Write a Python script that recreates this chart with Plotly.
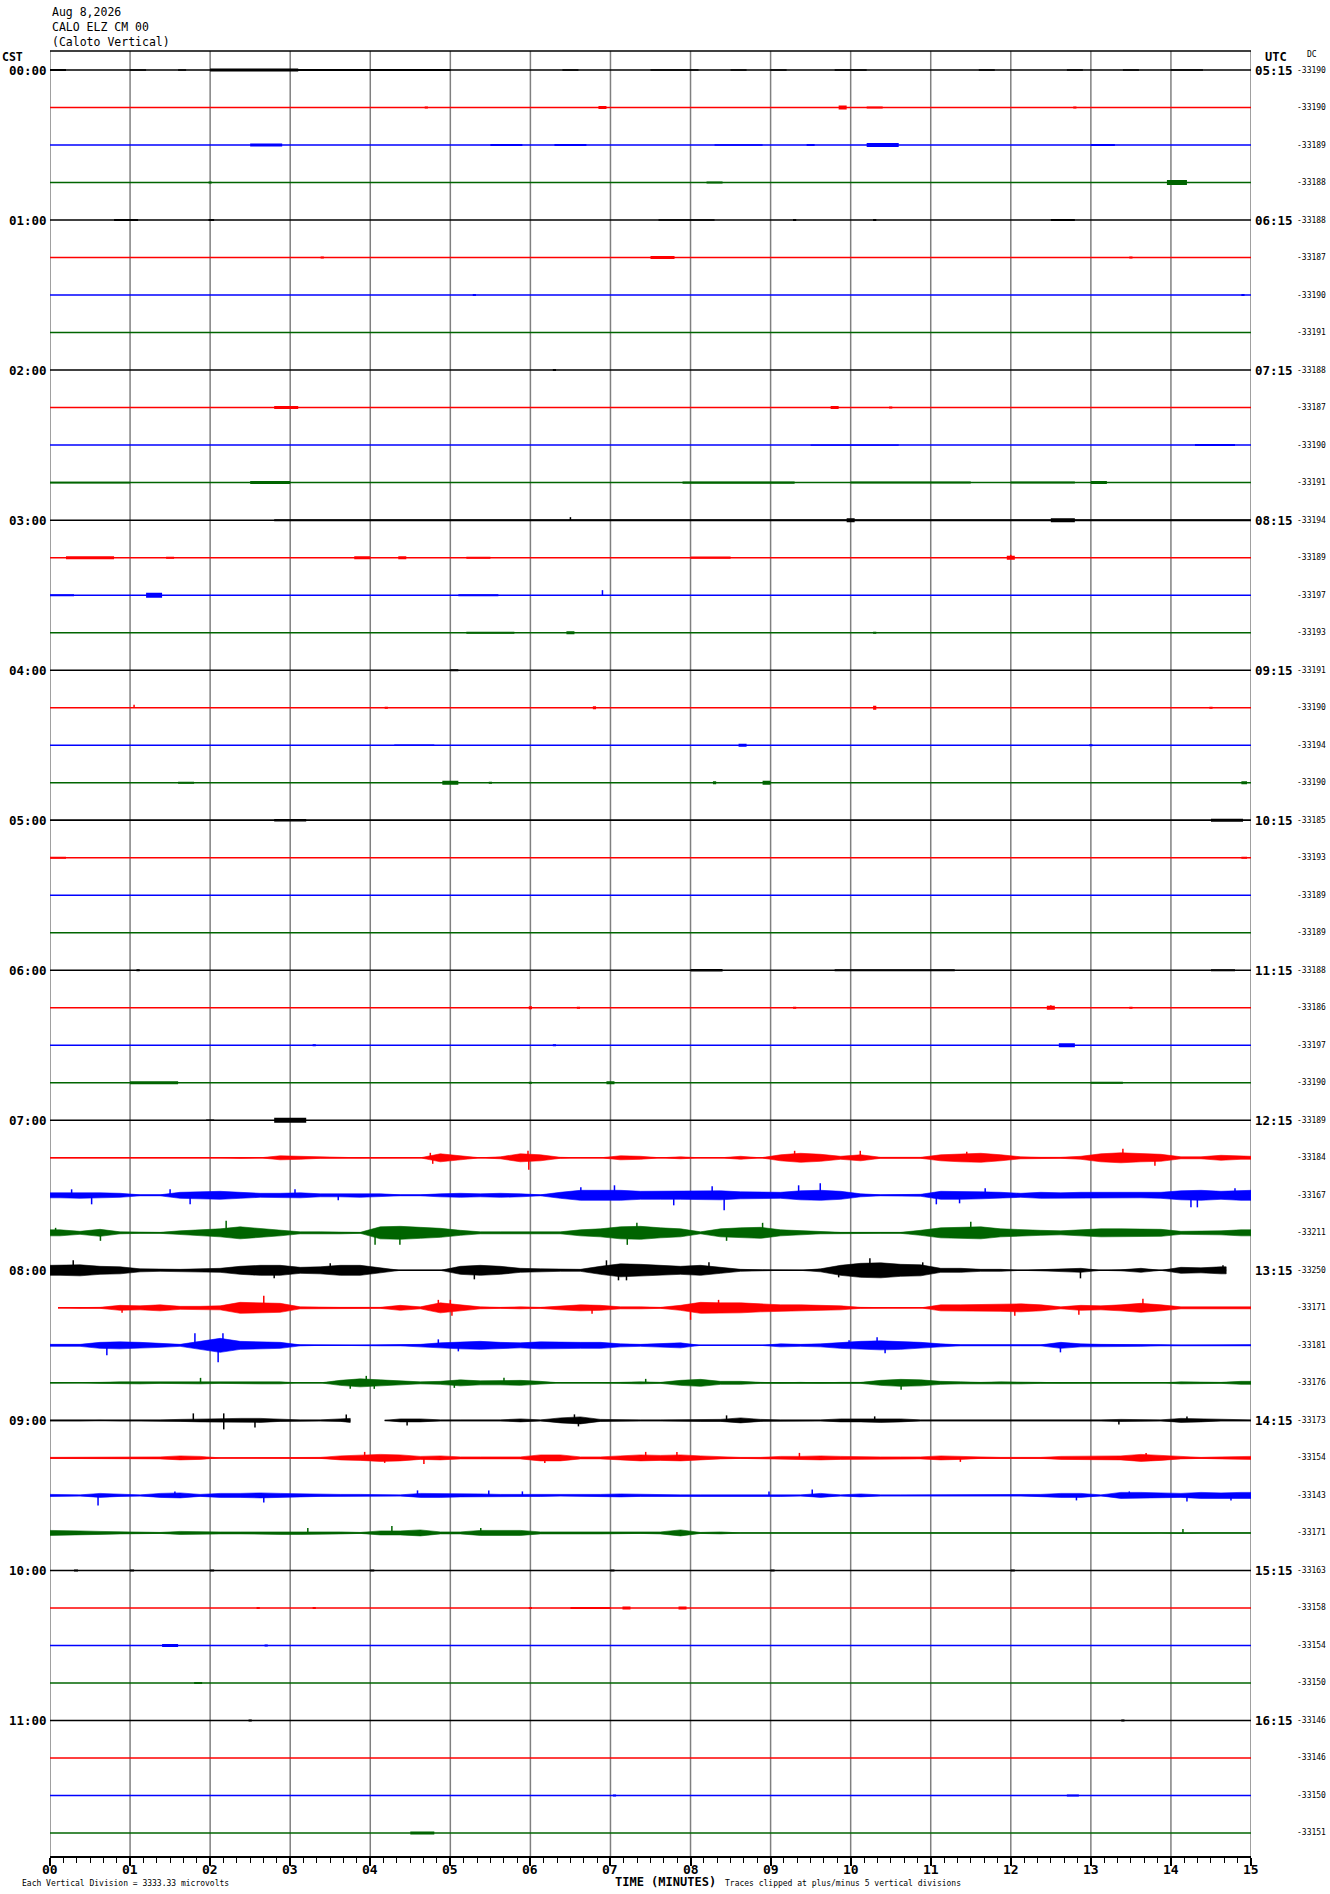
import plotly.graph_objects as go

# header / labels
title_lines = ["Aug 8,2026", "CALO ELZ CM 00", "(Caloto Vertical)"]
cst_labels = ["00:00", "01:00", "02:00", "03:00", "04:00", "05:00",
              "06:00", "07:00", "08:00", "09:00", "10:00", "11:00"]
utc_labels = ["05:15", "06:15", "07:15", "08:15", "09:15", "10:15",
              "11:15", "12:15", "13:15", "14:15", "15:15", "16:15"]
minute_labels = ["%02d" % m for m in range(16)]

dc_values = [-33190, -33190, -33189, -33188, -33188, -33187, -33190, -33191,
             -33188, -33187, -33190, -33191, -33194, -33189, -33197, -33193,
             -33191, -33190, -33194, -33190, -33185, -33193, -33189, -33189,
             -33188, -33186, -33197, -33190, -33189, -33184, -33167, -33211,
             -33250, -33171, -33181, -33176, -33173, -33154, -33143, -33171,
             -33163, -33158, -33154, -33150, -33146, -33146, -33150, -33151]

trace_colors = ["#000000", "#ff0000", "#0000ff", "#006400"]

# half-amplitude (px) per 15 s bin for the busy lines 07:15 .. 09:45
env_0715 = [0, .5, 0, .5, 0, 0, 0, 0, 0, .5, 0, 2, 1.5, .5, 0, 0, 0, 0, 0, 4,
            2, 0, 1, 4, 3, .5, 0, 0, 2, 1.5, 0, 1, 0, 0, 1.5, 0, 3, 4.5, 3.5, 1.5,
            3, .5, .5, .5, 3, 4, 4.5, 3, 1, .5, .5, 1.5, 4, 5, 4, 3.5, 1, 1, 2.5, 1.5]
env_0730 = [2.5, 3, 2.5, 2, .5, .5, 3, 3.5, 4, 3, 2, 2, 2.5, 1.5, 1.5, 2, 1.5, .5, .5, 1.5,
            2, 1.5, 2, 1.5, .5, 3, 5, 5, 5, 4, 4, 4, 4, 4.5, 3.5, 3, 3, 4.5, 5, 4,
            1.5, .5, .5, 1, 4, 4, 3.5, 3, 2, 3, 2.5, 3, 3, 2.5, 2.5, 3, 4.5, 5, 4, 5]
env_0745 = [3, 1.5, 3.5, 1, .5, .5, 2, 3, 4, 6, 4.5, 3, 1, 1, 1, .5, 6, 6.5, 5.5, 4.5,
            2.5, 1, 1, 1, 1, 1, 3, 4, 6, 6.5, 5, 4, 1, 4, 5, 5.5, 3, 2, 1, .5,
            .5, .5, .5, 2.5, 5, 5.5, 6, 4, 3, 2.5, 2, 3, 4, 4, 3.5, 3.5, 1.5, 1.5, 2, 3]
env_0800 = [5, 5.5, 4, 3.5, 1.5, 1, 1, 1.5, 2, 4, 5, 5, 3, 3.5, 5, 5, 2.5, 0, 0, 0,
            4, 5, 4, 2, 1.5, 1, 1, 4, 6.5, 6, 5, 4, 5, 3, 1, .5, 0, 0, 1.5, 5,
            7, 7.5, 6, 5.5, 2, 2, 1, 1, 0, .5, 1, 2, 0, .5, 2, 0, 3, 2.5, 3.5, 3]
env_0815 = [0, .5, .5, 2.5, 2, 3, 1.5, 1.5, 2, 5.5, 5, 4.5, 1, .5, .5, .5, .5, 2.5, 1, 5,
            3, 1, .5, 1, .5, 2, 3, 2.5, 1, 1, .5, 2.5, 5.5, 5, 5, 4, 3, 3, 2.5, 2,
            .5, 0, 0, 0, 3, 3, 3.5, 3.5, 4, 3, 1, 2.5, 2, 3, 4.5, 3, 1, 1, 1, 1]
env_0830 = [1, 1, 3, 3.5, 3, 2, 1, 4, 7, 4, 3.5, 3, .5, 0, 0, 0, .5, .5, 1, 2.5,
            3.5, 4, 3, 2.5, 3.5, 3, 3, 3, 1.5, 1, 1.5, 2.5, 0, 0, 0, 0, 1.5, 1, 1.5, 3,
            4, 4.5, 4, 3, 1.5, .5, .5, .5, .5, .5, 3, 1.5, 1, 1, 1, .5, 0, 0, 0, .5]
env_0845 = [0, 0, .5, 1, 1, .5, .5, 1, .5, .5, 1, 1, 0, 0, 2.5, 4, 3, 2, 1, 1.5,
            3, 2, 2, 2.5, 1.5, 0, 0, 0, .5, 1, .5, 2.5, 3.5, 1.5, 1.5, .5, 0, .5, 0, .5,
            .5, 2.5, 3.5, 3, 1.5, 1, .5, 1, 1, .5, 0, 0, 0, 0, 0, 0, 1, .5, .5, 1.5]
env_0900 = [.5, .5, 0, .5, .5, .5, 1, 1.5, 2, 2, 2, 1, .5, .5, 1, 2, 0, 1.5, 1.5, .5,
            .5, .5, .5, 1.5, .5, 2.5, 3.5, 1, .5, .5, .5, .5, 1, 1, 2.5, 1, .5, .5, .5, 1.5,
            1.5, 2, 1.5, .5, .5, 0, 0, 0, 0, 0, 0, .5, .5, 1, 1, .5, 2, 1.5, .5, .5]
env_0915 = [.5, .5, 1, .5, 1, 1, 2, 1.5, 0, 0, 0, 0, .5, .5, 2, 2.5, 3.5, 3, 1.5, 2,
            1, 1, 1, 1, 3, 3, 1, 1, 2, 3, 2.5, 3, 2, 1, .5, .5, 1.5, 1.5, 2, 1.5,
            1, 1, 1, 1, 2, 1.5, .5, .5, .5, .5, 1.5, 1.5, 2, 2, 3.5, 2.5, 1, .5, 1, 1.5]
env_0930 = [1, .5, 2, 1, .5, 2, 2.5, 1, 2, 2, 2.5, 2, 1.5, 1, 1, 1, .5, .5, 2, 2,
            1.5, 1.5, 1, 1, 1, .5, .5, 1, 1.5, 1, .5, .5, .5, .5, .5, 1, 1, .5, 2, .5,
            1.5, .5, .5, .5, 1, 1, .5, .5, .5, 1, 2, 2, .5, 3, 3, 2.5, 2, 3, 2.5, 3]
env_0945 = [2.5, 2, 1.5, 1, .5, .5, 1.5, 1, 1, 1, 1, 1.5, 1.5, 1.5, 1, .5, 2, 2, 3, 1,
            1, 2.5, 2.5, 2.5, 1, 1, 1, 1, 1, .5, 1, 3, .5, 1, 0, 0, 0, 0, 0, .5,
            0, .3, 0, 0, 0, 0, .3, 0, 0, .3, 0, 0, 0, 0, .3, 0, .5, 0, 0, 0]

busy_lines = {29: env_0715, 30: env_0730, 31: env_0745, 32: env_0800,
              33: env_0815, 34: env_0830, 35: env_0845, 36: env_0900,
              37: env_0915, 38: env_0930, 39: env_0945}

# small bursts on the quiet lines: (line, start min, end min, half-amplitude px)
quiet_bursts = [
    (0, 0, .2, 1), (0, 1, 1.2, .8), (0, 1.6, 1.7, .8), (0, 2, 3.1, 1.5), (0, 3.1, 5, 1),
    (0, 6.4, 6.6, .8), (0, 7.5, 8.1, .8), (0, 8.5, 8.7, .8), (0, 9, 9.2, .8), (0, 9.8, 10.2, .7),
    (0, 11.6, 11.8, .8), (0, 12.7, 12.9, .8), (0, 13.4, 13.6, .8), (0, 14, 14.4, .8),
    (1, 4.68, 4.72, 1), (1, 6.85, 6.95, 1.5), (1, 9.85, 9.95, 2), (1, 10.2, 10.4, 1), (1, 12.78, 12.82, 1),
    (2, 2.5, 2.9, 1.5), (2, 5.5, 5.9, 1), (2, 6.3, 6.7, 1), (2, 8.3, 8.9, .8), (2, 9.45, 9.55, 1),
    (2, 10.2, 10.6, 2), (2, 13, 13.3, 1),
    (3, 1.98, 2.02, 1), (3, 8.2, 8.4, 1), (3, 13.95, 14.2, 2.5),
    (4, .8, 1.1, 1), (4, 1.98, 2.05, 1), (4, 7.6, 8.3, .8), (4, 9.28, 9.32, 1), (4, 10.28, 10.32, 1),
    (4, 12.5, 12.8, 1),
    (5, 3.38, 3.42, 1), (5, 7.5, 7.8, 1.5), (5, 13.48, 13.52, 1),
    (6, 5.28, 5.32, 1), (6, 14.88, 14.92, 1),
    (8, 6.28, 6.32, 1),
    (9, 2.8, 3.1, 1.5), (9, 9.75, 9.85, 1.5), (9, 10.48, 10.52, 1),
    (10, 9.5, 10.6, .6), (10, 14.3, 14.8, 1),
    (11, 0, 1, .8), (11, 2.5, 3, 1.5), (11, 7.9, 9.3, 1.2), (11, 10, 11.5, 1), (11, 12, 12.8, 1),
    (11, 13, 13.2, 1.5),
    (12, 2.8, 15, 1), (12, 12.5, 12.8, 2), (12, 9.95, 10.05, 2),
    (13, .2, .8, 1.5), (13, 1.45, 1.55, 1), (13, 3.8, 4, 1.5), (13, 4.35, 4.45, 1.5), (13, 5.2, 5.5, 1),
    (13, 8, 8.5, 1.2), (13, 11.95, 12.05, 2),
    (14, 0, .3, 1), (14, 1.2, 1.4, 2.5), (14, 5.1, 5.6, 1),
    (15, 5.2, 5.8, 1), (15, 6.45, 6.55, 1.5), (15, 10.28, 10.32, 1),
    (16, 5, 5.1, 1),
    (17, 4.18, 4.22, 1), (17, 6.78, 6.82, 1.5), (17, 10.28, 10.32, 2), (17, 14.48, 14.52, 1),
    (18, 4.3, 4.8, .7), (18, 8.6, 8.7, 1.5), (18, 12.98, 13.02, 1),
    (19, 1.6, 1.8, 1), (19, 4.9, 5.1, 2), (19, 5.48, 5.52, 1), (19, 8.28, 8.32, 1.5), (19, 8.9, 9, 2),
    (19, 14.88, 14.95, 1.5),
    (20, 0, 15, .7), (20, 2.8, 3.2, 1.2), (20, 14.5, 14.9, 1.5),
    (21, 0, .2, 1), (21, 14.88, 14.95, 1),
    (24, 1.08, 1.12, 1), (24, 8, 8.4, 1.2), (24, 9.8, 11.3, 1), (24, 14.5, 14.8, 1),
    (25, 5.98, 6.02, 1.5), (25, 6.58, 6.62, 1), (25, 9.28, 9.32, 1), (25, 12.45, 12.55, 2),
    (25, 13.48, 13.52, 1),
    (26, 3.28, 3.32, 1), (26, 6.28, 6.32, 1), (26, 12.6, 12.8, 2),
    (27, 1, 1.6, 1.5), (27, 5.98, 6.02, 1), (27, 6.95, 7.05, 1.5), (27, 13, 13.4, 1),
    (28, 2.8, 3.2, 2.5), (28, 1.95, 2.05, .8),
    (40, .3, .35, 1), (40, 1, 1.05, 1), (40, 2, 2.05, 1), (40, 4, 4.05, 1), (40, 7, 7.05, 1),
    (40, 9, 9.05, 1), (40, 12, 12.05, 1),
    (41, 2.58, 2.62, 1), (41, 3.28, 3.32, 1), (41, 5.98, 6.02, 1), (41, 6.5, 7, 1), (41, 7.15, 7.25, 1.5),
    (41, 7.85, 7.95, 1.5),
    (42, 1.4, 1.6, 1.5), (42, 2.68, 2.72, 1),
    (43, 1.8, 1.9, 1),
    (44, 2.48, 2.52, 1), (44, 13.38, 13.42, 1),
    (46, 7.03, 7.07, 1), (46, 12.7, 12.85, 1),
    (47, 4.5, 4.8, 1.5),
]

# single large excursions: (line, minute, px, + up / - down)
spikes = [
    (29, 4.78, -6), (29, 4.75, 5), (29, 5.98, -12), (29, 5.97, 7), (29, 9.3, 7), (29, 10.12, 7),
    (29, 11.45, 6), (29, 13.4, 9), (29, 13.8, -8),
    (30, .27, 6), (30, .52, -9), (30, 1.5, 6), (30, 1.75, -9), (30, 3.06, 6), (30, 3.6, -5),
    (30, 6.63, 8), (30, 7.05, 10), (30, 7.79, -10), (30, 8.27, 9), (30, 8.42, -15), (30, 9.35, 10),
    (30, 9.62, 12), (30, 11.07, -9), (30, 11.36, -8), (30, 11.68, 7), (30, 14.25, -12),
    (30, 14.33, -12), (30, 14.8, 7),
    (31, .07, 5), (31, .63, -8), (31, 2.2, 12), (31, 4.06, -12), (31, 4.37, -12), (31, 7.21, -12),
    (31, 7.33, 10), (31, 8.45, -8), (31, 8.9, 10), (31, 11.5, 11),
    (32, .29, 10), (32, 2.8, -8), (32, 3.5, 7), (32, 5.3, -9), (32, 6.95, 10), (32, 7.1, -10),
    (32, 7.2, -10), (32, 8.23, 8), (32, 9.85, -7), (32, 10.24, 12), (32, 10.9, 8), (32, 12.87, -8),
    (32, 14.65, 5),
    (33, .9, -5), (33, 2.67, 12), (33, 4.85, 8), (33, 5, 8), (33, 5.02, -8), (33, 6.77, -6),
    (33, 8, -12), (33, 8.35, 8), (33, 12.05, -8), (33, 12.85, -7), (33, 13.65, 9),
    (34, .71, -10), (34, 1.81, 12), (34, 2.1, -17), (34, 2.16, 12), (34, 4.85, 6), (34, 5.1, -6),
    (34, 9.98, 5), (34, 10.33, 8), (34, 10.43, -8), (34, 12.62, -7),
    (35, 1.88, 5), (35, 3.75, -6), (35, 3.95, 7), (35, 4.05, -6), (35, 5.05, -5), (35, 5.67, 5),
    (35, 7.44, 4), (35, 10.63, -7),
    (36, 1.79, 7), (36, 2.17, -9), (36, 2.17, 7), (36, 2.56, -7), (36, 3.7, 6), (36, 4.46, -5),
    (36, 6.55, 6), (36, 6.6, -6), (36, 8.45, 5), (36, 10.3, 4), (36, 13.35, -4), (36, 14.2, 4),
    (37, 3.93, 6), (37, 4.18, -5), (37, 4.67, -6), (37, 6.18, -5), (37, 7.44, 6), (37, 7.83, 6),
    (37, 9.36, 5), (37, 11.37, -4), (37, 13.69, 5),
    (38, .6, -10), (38, 1.56, 4), (38, 2.67, -7), (38, 4.59, 5), (38, 5.48, 5), (38, 5.9, 4),
    (38, 8.98, 4), (38, 9.52, 6), (38, 12.82, -5), (38, 13.48, 4), (38, 14.2, -6), (38, 14.75, -5),
    (39, 3.22, 5), (39, 4.27, 7), (39, 5.38, 5), (39, 14.15, 4),
    (12, 6.5, 3), (13, 12, 3), (14, 6.9, 5), (17, 1.05, 3), (25, 12.5, 2.5),
]

# recorded stretches where a line does not cover the full 15 minutes
line_pieces = {32: [(0, 14.69)], 33: [(0.1, 15)], 36: [(0, 3.75), (4.18, 15)]}

N_LINES = 48
PX = 1 / 37.5  # one screen pixel in line-spacing units

fig = go.Figure()

# minute grid
for m in range(16):
    fig.add_shape(type="line", xref="x", yref="paper", x0=m, x1=m, y0=0, y1=1,
                  line=dict(color="#808080", width=1.5), layer="below")

for i in range(N_LINES):
    color = trace_colors[i % 4]
    base = -i
    pieces = line_pieces.get(i, [(0, 15)])

    # baseline
    xs, ys = [], []
    for a, b in pieces:
        xs += [a, b, None]
        ys += [base, base, None]
    fig.add_trace(go.Scatter(x=xs, y=ys, mode="lines", line=dict(color=color, width=1.5),
                             hoverinfo="skip", showlegend=False))

    # envelope of the noisy lines
    if i in busy_lines:
        env = busy_lines[i]
        for a, b in pieces:
            px_ = [a] + [(k + 0.5) * 0.25 for k in range(60) if a < (k + 0.5) * 0.25 < b] + [b]
            amp = [env[min(int(x * 4), 59)] for x in px_]
            up = [base + v * PX for v in amp]
            dn = [base - v * PX for v in amp]
            fig.add_trace(go.Scatter(x=px_ + px_[::-1], y=up + dn[::-1], mode="lines",
                                     fill="toself", fillcolor=color,
                                     line=dict(color=color, width=0.6),
                                     hoverinfo="skip", showlegend=False))

# quiet bursts
for c in range(4):
    xs, ys = [], []
    for ln, a, b, amp in quiet_bursts:
        if ln % 4 != c:
            continue
        xs += [a, b, b, a, a, None]
        ys += [-ln + amp * PX, -ln + amp * PX, -ln - amp * PX, -ln - amp * PX, -ln + amp * PX, None]
    fig.add_trace(go.Scatter(x=xs, y=ys, mode="lines", fill="toself",
                             fillcolor=trace_colors[c], line=dict(color=trace_colors[c], width=0),
                             hoverinfo="skip", showlegend=False))

# spikes
for c in range(4):
    xs, ys = [], []
    for ln, m, amp in spikes:
        if ln % 4 != c:
            continue
        xs += [m, m, None]
        ys += [-ln, -ln + amp * PX, None]
    fig.add_trace(go.Scatter(x=xs, y=ys, mode="lines", line=dict(color=trace_colors[c], width=1.5),
                             hoverinfo="skip", showlegend=False))

# pixel helpers for text placement
L, R, T, B = 50, 1251, 51, 1856
def py(p):
    return (B - p) / (B - T)
def pxp(x):
    return (x - L) / (R - L)

mono = "DejaVu Sans Mono"
ann = []
for k, t in enumerate(title_lines):
    ann.append(dict(x=pxp(50), y=py(12 + 15 * k), text=t, xanchor="left",
                    font=dict(size=11.5, family=mono)))
ann.append(dict(x=pxp(0), y=py(57), text="CST", xanchor="left", font=dict(size=11.5, family=mono, weight="bold")))
ann.append(dict(x=pxp(1263), y=py(57), text="UTC", xanchor="left", font=dict(size=12, family=mono, weight="bold")))
ann.append(dict(x=pxp(1305), y=py(54), text="DC", xanchor="left", font=dict(size=8, family=mono)))
for h in range(12):
    yv = -4 * h
    ann.append(dict(x=pxp(49), y=yv, yref="y", text=cst_labels[h], xanchor="right",
                    font=dict(size=12.5, family=mono, weight="bold")))
    ann.append(dict(x=pxp(1253), y=yv, yref="y", text=utc_labels[h], xanchor="left",
                    font=dict(size=12.5, family=mono, weight="bold")))
for i, v in enumerate(dc_values):
    ann.append(dict(x=pxp(1295), y=-i, yref="y", text=str(v), xanchor="left",
                    font=dict(size=8, family=mono)))
# minute labels under the axis
for m, lab in enumerate(minute_labels):
    ann.append(dict(x=m, xref="x", y=py(1869), text=lab, xanchor="center",
                    font=dict(size=13, family=mono, weight="bold")))
ann.append(dict(x=pxp(20), y=py(1884), text="Each Vertical Division = 3333.33 microvolts",
                xanchor="left", font=dict(size=8, family=mono)))
ann.append(dict(x=pxp(613), y=py(1882), text="TIME (MINUTES)", xanchor="left",
                font=dict(size=12, family=mono, weight="bold")))
ann.append(dict(x=pxp(723), y=py(1884), text="Traces clipped at plus/minus 5 vertical divisions",
                xanchor="left", font=dict(size=8, family=mono)))
for a in ann:
    a.setdefault("xref", "paper")
    a.setdefault("yref", "paper")
    a["showarrow"] = False
    a["yanchor"] = "middle"
    a["font"]["color"] = "black"

fig.update_layout(
    width=1330, height=1894,
    margin=dict(l=L, r=1330 - R, t=T, b=1894 - B),
    paper_bgcolor="white", plot_bgcolor="white",
    annotations=ann,
    xaxis=dict(range=[0, 15], showgrid=False, zeroline=False,
               tickvals=list(range(16)), showticklabels=False,
               ticks="outside", ticklen=8, tickwidth=1.5, tickcolor="black",
               showline=True, linecolor="black", linewidth=1.5, mirror=False,
               minor=dict(dtick=1 / 6, tick0=0, ticks="outside", ticklen=5,
                          tickcolor="black", tickwidth=1, showgrid=False)),
    yaxis=dict(range=[-47 - 23 * PX, 19 * PX], showgrid=False, zeroline=False,
               showticklabels=False, ticks=""),
    shapes=list(fig.layout.shapes) + [
        dict(type="line", xref="paper", yref="paper", x0=0, x1=1, y0=1, y1=1,
             line=dict(color="black", width=1.5))],
)

# page body has a default 8px margin; drop it so the figure fills the window
fig.write_html("out.html", config={"displayModeBar": False},
               post_script="document.body.style.margin='0';document.body.style.overflow='hidden';")
